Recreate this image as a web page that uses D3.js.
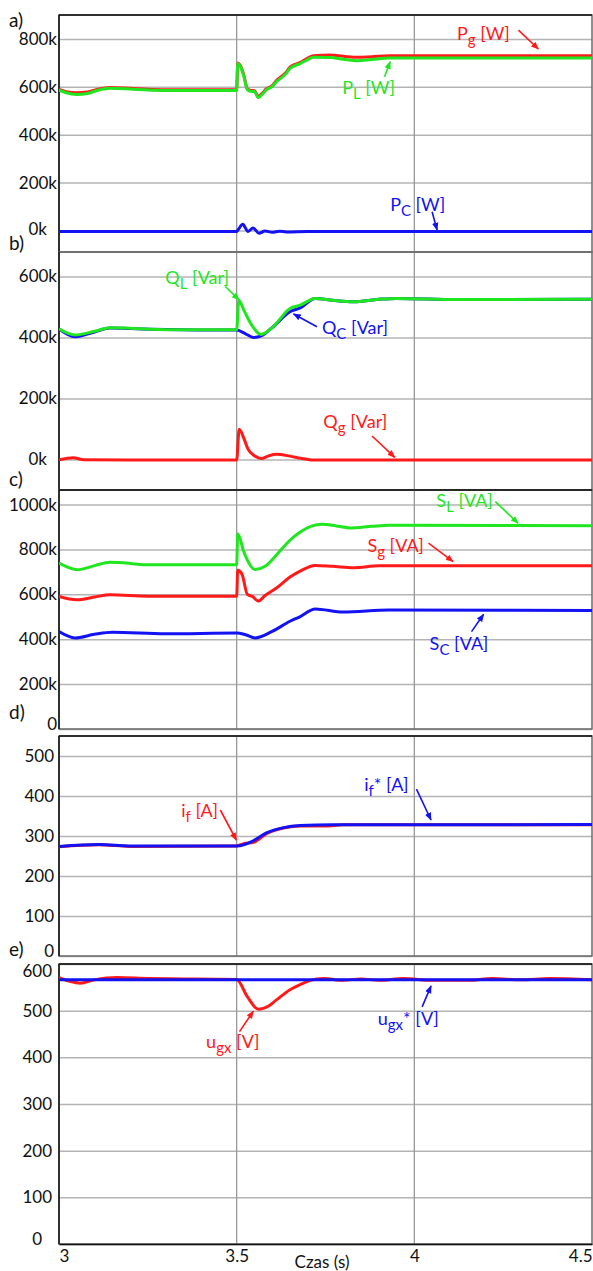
<!DOCTYPE html>
<html>
<head>
<meta charset="utf-8">
<script src="https://cdn.jsdelivr.net/npm/d3@7"></script>
<style>
  body { margin: 0; background: #fff; }
  svg { display: block; font-family: Lato, "Open Sans", sans-serif; }
</style>
</head>
<body>
<div id="chart"></div>
<script>
// ---- data (k units for power panels) ----
const pgT = [3.0, 3.02, 3.05, 3.08, 3.11, 3.144, 3.2, 3.25, 3.3, 3.4, 3.5, 3.503, 3.51, 3.52, 3.53, 3.54, 3.55, 3.561, 3.57, 3.584, 3.6, 3.612, 3.64, 3.65, 3.679, 3.7, 3.716, 3.763, 3.8, 3.839, 3.88, 3.932, 4.0, 4.2, 4.5];
const pgV = [589, 580, 575, 578, 590, 597, 594, 590, 588, 588, 588, 700, 690, 650, 592, 585, 584, 560, 570, 592, 605, 626, 662, 682, 702, 720, 730, 733, 728, 723, 726, 730, 730, 730, 730];
const plT = [3.0, 3.02, 3.05, 3.08, 3.11, 3.144, 3.2, 3.25, 3.3, 3.4, 3.5, 3.503, 3.51, 3.52, 3.53, 3.54, 3.55, 3.561, 3.57, 3.584, 3.6, 3.612, 3.64, 3.65, 3.679, 3.7, 3.716, 3.763, 3.8, 3.839, 3.88, 3.932, 4.0, 4.2, 4.5];
const plV = [586, 575, 568, 572, 586, 594, 591, 587, 585, 585, 585, 697, 686, 645, 588, 581, 580, 555, 566, 588, 601, 621, 657, 677, 697, 714, 724, 722, 715, 709, 714, 720, 720, 720, 720];
const pcT = [3.0, 3.5, 3.505, 3.517, 3.532, 3.546, 3.563, 3.58, 3.6, 3.62, 3.64, 3.7, 4.5];
const pcV = [-4, -4, 5, 26, -4, 10, -12, -2, -8, -3, -6, -4, -4];

const qlT = [3.0, 3.045, 3.1, 3.144, 3.2, 3.256, 3.35, 3.5, 3.506, 3.52, 3.54, 3.569, 3.6, 3.65, 3.679, 3.721, 3.77, 3.829, 3.9, 3.95, 4.12, 4.5];
const qlV = [428, 408, 420, 432, 430, 427, 425, 425, 522, 490, 445, 410, 432, 495, 506, 528, 522, 517, 525, 528, 524, 525];
const qcT = [3.0, 3.045, 3.1, 3.144, 3.2, 3.256, 3.35, 3.5, 3.525, 3.547, 3.569, 3.6, 3.65, 3.679, 3.721, 3.77, 3.829, 3.9, 3.95, 4.12, 4.5];
const qcV = [428, 402, 418, 431, 429, 427, 425, 424, 412, 400, 405, 432, 484, 497, 528, 522, 517, 525, 528, 524, 525];
const qgT = [3.0, 3.04, 3.07, 3.2, 3.5, 3.507, 3.52, 3.532, 3.55, 3.569, 3.59, 3.612, 3.65, 3.68, 3.716, 4.5];
const qgV = [-1, 6, -1, -2, -2, 99, 70, 34, 12, 3, 12, 17, 11, 4, -2, -2];

const slT = [3.0, 3.052, 3.1, 3.144, 3.2, 3.238, 3.5, 3.503, 3.52, 3.552, 3.58, 3.62, 3.65, 3.679, 3.74, 3.78, 3.82, 3.88, 3.93, 4.5];
const slV = [739, 710, 728, 743, 738, 732, 732, 870, 790, 711, 725, 790, 841, 878, 912, 905, 896, 903, 908, 906];
const sgT = [3.0, 3.05, 3.1, 3.144, 3.25, 3.5, 3.503, 3.515, 3.53, 3.545, 3.561, 3.58, 3.612, 3.65, 3.68, 3.721, 3.77, 3.83, 3.9, 4.5];
const sgV = [591, 576, 588, 598, 592, 591, 707, 690, 600, 590, 570, 595, 628, 677, 705, 729, 725, 719, 727, 728];
const scT = [3.0, 3.045, 3.1, 3.15, 3.3, 3.5, 3.525, 3.552, 3.6, 3.65, 3.679, 3.721, 3.8, 3.93, 4.5];
const scV = [434, 406, 422, 431, 424, 428, 420, 406, 435, 480, 501, 535, 521, 530, 528];

const ifRefT = [3.0, 3.113, 3.2, 3.5, 3.547, 3.584, 3.632, 3.679, 3.77, 4.5];
const ifRefV = [274, 279, 275, 275, 288, 308, 321, 326, 328, 328.5];
const ifT = [3.0, 3.113, 3.2, 3.5, 3.52, 3.547, 3.584, 3.632, 3.679, 3.75, 3.8, 4.5];
const ifV = [273, 278, 274, 275, 281, 284, 306, 320, 325, 325, 328, 328];

const ugRefT = [3.0, 4.5];
const ugRefV = [566, 566];
const ugT = [3.0, 3.03, 3.06, 3.1, 3.163, 3.25, 3.35, 3.5, 3.53, 3.561, 3.59, 3.612, 3.65, 3.679, 3.707, 3.744, 3.8, 3.85, 3.9, 3.97, 4.05, 4.15, 4.22, 4.3, 4.38, 4.5];
const ugV = [571, 563, 559, 566, 571, 569, 568, 567, 530, 503, 510, 523, 545, 556, 565, 569, 565, 568, 565, 569, 565, 565, 569, 566, 569, 566];

const xTicks = [3, 3.5, 4, 4.5];
const xTickLabels = ["3", "3.5", "4", "4.5"];

const RED = "#ff1a1a", GREEN = "#1fe61f", BLUE = "#1212f2";

// ---- layout ----
const W = 593, H = 1271;
const left = 59, right = 592;

const panels = [
  { id: "a)", idY: 27, top: 15, bottom: 252, domain: [-90, 900], ticks: [0, 200, 400, 600, 800], fmt: d => d + "k", labelX: 57,
    series: [[pgT, pgV, RED], [plT, plV, GREEN], [pcT, pcV, BLUE]],
    notes: [
      { main: "P", sub: "g", rest: " [W]", color: RED, t: 4.12, v: 796, a: [4.293, 837, 4.349, 758] },
      { main: "P", sub: "L", rest: " [W]", color: GREEN, t: 3.797, v: 569, a: [3.916, 642, 3.932, 705] },
      { main: "P", sub: "C", rest: " [W]", color: BLUE, t: 3.932, v: 83, a: [4.05, 78, 4.064, 2] }
    ] },
  { id: "b)", idY: 250, top: 252, bottom: 490, domain: [-100, 680], ticks: [0, 200, 400, 600], fmt: d => d + "k", labelX: 57,
    series: [[qcT, qcV, BLUE], [qlT, qlV, GREEN], [qgT, qgV, RED]],
    notes: [
      { main: "Q", sub: "L", rest: " [Var]", color: GREEN, t: 3.299, v: 575, a: [3.468, 567, 3.507, 523] },
      { main: "Q", sub: "C", rest: " [Var]", color: BLUE, t: 3.74, v: 411, a: [3.726, 435, 3.66, 477] },
      { main: "Q", sub: "g", rest: " [Var]", color: RED, t: 3.744, v: 102, a: [3.881, 77, 3.945, 7] }
    ] },
  { id: "c)", idY: 486, top: 490, bottom: 729, domain: [0, 1065], ticks: [0, 200, 400, 600, 800, 1000], fmt: d => d === 0 ? "0" : d + "k", labelX: 57,
    series: [[slT, slV, GREEN], [sgT, sgV, RED], [scT, scV, BLUE]],
    notes: [
      { main: "S", sub: "L", rest: " [VA]", color: GREEN, t: 4.062, v: 990, a: [4.228, 1013, 4.292, 917] },
      { main: "S", sub: "g", rest: " [VA]", color: RED, t: 3.868, v: 790, a: [4.04, 828, 4.109, 746] },
      { main: "S", sub: "C", rest: " [VA]", color: BLUE, t: 4.043, v: 352, a: [4.161, 434, 4.195, 511] }
    ] },
  { id: "d)", idY: 719, top: 736, bottom: 956, domain: [0, 550], ticks: [0, 100, 200, 300, 400, 500], fmt: d => String(d), labelX: 54,
    series: [[ifT, ifV, RED], [ifRefT, ifRefV, BLUE]],
    notes: [
      { main: "i", sub: "f", rest: " [A]", color: RED, t: 3.344, v: 347, a: [3.454, 365, 3.499, 290] },
      { main: "i", sub: "f", rest: "* [A]", color: BLUE, t: 3.859, v: 413, a: [4.006, 417, 4.047, 340] }
    ] },
  { id: "e)", idY: 956, top: 964, bottom: 1244, domain: [0, 600], ticks: [0, 100, 200, 300, 400, 500, 600], fmt: d => String(d), labelX: 52,
    series: [[ugT, ugV, RED], [ugRefT, ugRefV, BLUE]],
    notes: [
      { main: "u", sub: "gx", rest: " [V]", color: RED, t: 3.414, v: 419, a: [3.508, 455, 3.547, 499] },
      { main: "u", sub: "gx", rest: "* [V]", color: BLUE, t: 3.897, v: 469, a: [4.022, 508, 4.047, 553] }
    ] }
];

const svg = d3.select("#chart").append("svg")
  .attr("width", W).attr("height", H);

const defs = svg.append("defs");
[RED, GREEN, BLUE].forEach((c, i) => {
  defs.append("marker")
    .attr("id", "arr" + i)
    .attr("viewBox", "0 0 10 10")
    .attr("refX", 9).attr("refY", 5)
    .attr("markerWidth", 5).attr("markerHeight", 5)
    .attr("orient", "auto")
    .append("path").attr("d", "M0,1 L10,5 L0,9 z").attr("fill", c);
});
const markerFor = c => "url(#arr" + [RED, GREEN, BLUE].indexOf(c) + ")";

const x = d3.scaleLinear().domain([3, 4.5]).range([left, right]);

panels.forEach((p, pi) => {
  const y = d3.scaleLinear().domain(p.domain).range([p.bottom, p.top]);
  const g = svg.append("g");

  // horizontal grid + tick labels
  const ax = g.append("g")
    .attr("transform", `translate(${left},0)`)
    .call(d3.axisLeft(y).tickValues(p.ticks).tickFormat(p.fmt)
      .tickSizeInner(-(right - left)).tickSizeOuter(0).tickPadding(0));
  ax.select(".domain").remove();
  ax.selectAll("line").attr("stroke", "#b4b4b4").attr("stroke-width", 1.5);
  ax.selectAll("text")
    .attr("x", p.labelX - left)
    .attr("fill", "#111")
    .style("font-size", "17px")
    .style("font-family", "Lato, sans-serif");
  // end labels are nudged inside the frame in the original
  const lo = p.ticks[0], hi = p.ticks[p.ticks.length - 1];
  ax.selectAll("text").filter(d => d === lo)
    .attr("dx", pi < 2 ? -10 : (pi === 4 ? -10 : 0))
    .attr("y", pi === 0 ? -1 : (pi === 1 ? 0 : -5));
  if (y(hi) - p.top < 4) ax.selectAll("text").filter(d => d === hi).attr("y", 7);

  // vertical grid
  g.selectAll(".vg").data([3.5, 4]).enter().append("line")
    .attr("x1", d => x(d)).attr("x2", d => x(d))
    .attr("y1", p.top).attr("y2", p.bottom)
    .attr("stroke", "#999").attr("stroke-width", 1.3);

  // frame
  g.append("rect")
    .attr("x", left).attr("y", p.top)
    .attr("width", right - left).attr("height", p.bottom - p.top)
    .attr("fill", "none").attr("stroke", "#6a6a6a").attr("stroke-width", 1.5);
  g.append("line").attr("x1", left).attr("x2", left).attr("y1", p.top).attr("y2", p.bottom)
    .attr("stroke", "#111").attr("stroke-width", 1.5);
  if (pi !== 1) {
    g.append("line").attr("x1", left).attr("x2", right).attr("y1", p.top).attr("y2", p.top)
      .attr("stroke", "#111").attr("stroke-width", 1.5);
  }

  // series
  const line = d3.line()
    .x(d => x(d[0])).y(d => y(d[1]))
    .curve(d3.curveMonotoneX);
  const clipId = "clip" + pi;
  defs.append("clipPath").attr("id", clipId).append("rect")
    .attr("x", left).attr("y", p.top).attr("width", right - left).attr("height", p.bottom - p.top);
  p.series.forEach(([ts, vs, c]) => {
    g.append("path")
      .datum(d3.zip(ts, vs))
      .attr("clip-path", `url(#${clipId})`)
      .attr("d", line)
      .attr("fill", "none")
      .attr("stroke", c)
      .attr("stroke-width", 3)
      .attr("stroke-linejoin", "round");
  });

  // annotations
  p.notes.forEach(n => {
    const txt = g.append("text")
      .attr("x", x(n.t)).attr("y", y(n.v))
      .attr("fill", n.color)
      .style("font-size", "18px");
    txt.append("tspan").text(n.main);
    txt.append("tspan").attr("dy", 5).style("font-size", "15px").text(n.sub);
    txt.append("tspan").attr("dy", -5).text(n.rest);
    g.append("line")
      .attr("x1", x(n.a[0])).attr("y1", y(n.a[1]))
      .attr("x2", x(n.a[2])).attr("y2", y(n.a[3]))
      .attr("stroke", n.color).attr("stroke-width", 1.6)
      .attr("marker-end", markerFor(n.color));
  });

  // panel letter
  svg.append("text")
    .attr("x", 9).attr("y", p.idY)
    .attr("fill", "#111")
    .style("font-size", "19px")
    .text(p.id);
});

// bottom time axis
const last = panels[panels.length - 1];
const xa = svg.append("g")
  .attr("transform", `translate(0,${last.bottom})`)
  .call(d3.axisBottom(x).tickValues(xTicks).tickFormat((d, i) => xTickLabels[i]).tickSize(0).tickPadding(6));
xa.select(".domain").attr("stroke", "#111").attr("stroke-width", 1.5);
xa.selectAll("text")
  .attr("fill", "#111")
  .style("font-size", "17px")
  .style("font-family", "Lato, sans-serif")
  .attr("text-anchor", (d, i) => i === 0 ? "start" : (i === xTicks.length - 1 ? "end" : "middle"));

svg.append("text")
  .attr("x", x(3.663)).attr("y", 1268)
  .attr("fill", "#111")
  .style("font-size", "17px")
  .text("Czas (s)");
</script>
</body>
</html>
